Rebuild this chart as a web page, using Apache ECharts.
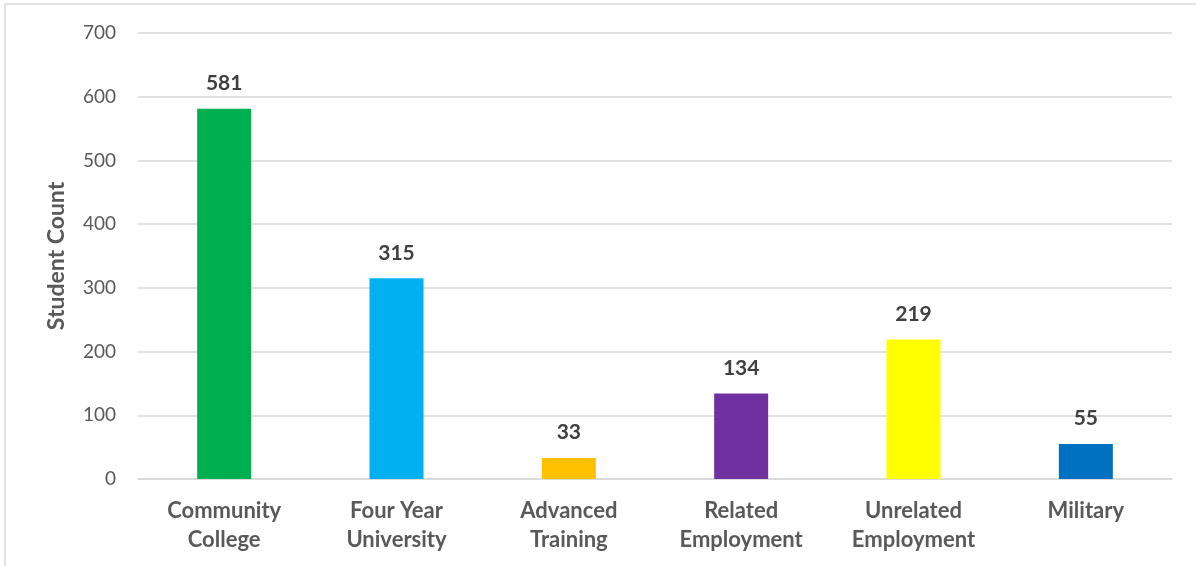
<!DOCTYPE html>
<html>
<head>
<meta charset="utf-8">
<script src="https://cdn.jsdelivr.net/npm/echarts@6/dist/echarts.min.js"></script>
<style>
  html, body { margin: 0; padding: 0; background: #ffffff; }
  #chart { width: 1196px; height: 566px; }
</style>
</head>
<body>
<div id="chart"></div>
<script>
// Post-program outcomes by destination
const categories = ['Community\nCollege', 'Four Year\nUniversity', 'Advanced\nTraining', 'Related\nEmployment', 'Unrelated\nEmployment', 'Military'];
const studentCounts = [581, 315, 33, 134, 219, 55];
const barColors = ['#00B050', '#00B0F0', '#FFC000', '#7030A0', '#FFFF00', '#0070C0'];
const yTicks = { min: 0, max: 700, interval: 100 };

const FONT = 'Lato, "Open Sans", sans-serif';

const chart = echarts.init(document.getElementById('chart'));
chart.setOption({
  backgroundColor: '#ffffff',
  animation: false,
  graphic: [{
    type: 'rect',
    shape: { x: 5, y: 4, width: 1300, height: 700 },
    style: { fill: 'none', stroke: '#d9d9d9', lineWidth: 1.5 },
    silent: true
  }],
  grid: { left: 138, right: 24, top: 33, bottom: 87 },
  xAxis: {
    type: 'category',
    data: categories,
    axisTick: { show: false },
    axisLine: { lineStyle: { color: '#d9d9d9', width: 1.5 } },
    axisLabel: {
      color: '#595959', fontFamily: FONT, fontSize: 22, fontWeight: 'bold',
      lineHeight: 29, margin: 17, interval: 0
    }
  },
  yAxis: {
    type: 'value',
    min: yTicks.min, max: yTicks.max, interval: yTicks.interval,
    name: 'Student Count',
    nameLocation: 'middle',
    nameGap: 70,
    nameRotate: 90,
    nameTextStyle: { color: '#595959', fontFamily: FONT, fontSize: 23, fontWeight: 'bold' },
    axisLine: { show: false },
    axisTick: { show: false },
    axisLabel: { color: '#595959', fontFamily: FONT, fontSize: 19, margin: 22 },
    splitLine: { lineStyle: { color: '#d9d9d9', width: 1.5 } }
  },
  series: [{
    type: 'bar',
    barWidth: 54,
    data: studentCounts.map((v, i) => ({ value: v, itemStyle: { color: barColors[i] } })),
    label: {
      show: true, position: 'top', distance: 15,
      color: '#404040', fontFamily: FONT, fontSize: 21, fontWeight: 'bold'
    }
  }]
});
</script>
</body>
</html>
